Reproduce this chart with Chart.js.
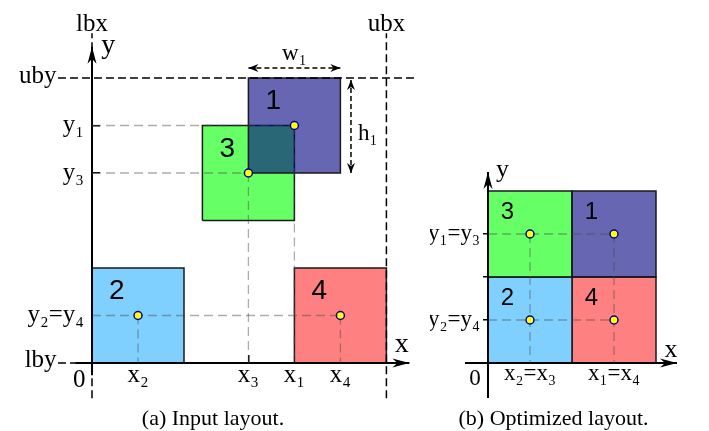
<!DOCTYPE html>
<html>
<head>
<meta charset="utf-8">
<script src="https://cdn.jsdelivr.net/npm/chart.js@4"></script>
<style>
  html, body { margin: 0; padding: 0; background: #fff; }
  body { width: 709px; height: 431px; position: relative; overflow: hidden; }
  .panel { position: absolute; top: 0; height: 431px; }
  #panel-a { left: 0; width: 430px; }
  #panel-b { left: 415px; width: 294px; }
</style>
</head>
<body>
<div class="panel" id="panel-a"><canvas id="chart-a"></canvas></div>
<div class="panel" id="panel-b"><canvas id="chart-b"></canvas></div>
<script>
const SERIF = '"Liberation Serif", "DejaVu Serif", serif';
const SANS = '"Liberation Sans", Arial, sans-serif';

// Прямоугольники 1..4 (одни и те же в обоих вариантах)
const rectNames = ['1', '2', '3', '4'];
const rectColors = ['rgba(0, 0, 128, 0.6)', '#80d0ff', 'rgba(0, 255, 0, 0.6)', '#ff8080'];

// (a) входной layout: левый нижний угол, ширина, высота
const inLeft = [1.7, 0.0, 1.2, 2.2];
const inBottom = [2.0, 0.0, 1.5, 0.0];
const inWidth = [1, 1, 1, 1];
const inHeight = [1, 1, 1, 1];

// границы области размещения
const boundNames = ['lbx', 'ubx', 'lby', 'uby'];
const boundValues = [0, 3.2, 0, 3.0];

const inXTicks = [0.5, 1.7, 2.2, 2.7];
const inXTickLabels = ['x₂', 'x₃', 'x₁', 'x₄'];
const inYTicks = [2.5, 2.0, 0.5];
const inYTickLabels = ['y₁', 'y₃', 'y₂=y₄'];

// (b) оптимизированный layout
const outLeft = [1, 0, 0, 1];
const outBottom = [1, 0, 1, 0];
const outWidth = [1, 1, 1, 1];
const outHeight = [1, 1, 1, 1];

const outXTicks = [0.5, 1.5];
const outXTickLabels = ['x₂=x₃', 'x₁=x₄'];
const outYTicks = [1.5, 1.0, 0.5];
const outYTickLabels = ['y₁=y₃', '', 'y₂=y₄'];

const captions = ['(a) Input layout.', '(b) Optimized layout.'];

// замкнутый контур прямоугольника
function rectPath(x, y, w, h) {
    return [{x: x, y: y}, {x: x + w, y: y}, {x: x + w, y: y + h}, {x: x, y: y + h}, {x: x, y: y}];
}

// пунктирные выноски от центров к осям (без повторов)
function guideLines(pts) {
    const byY = {}, byX = {};
    const key = v => Math.round(v * 1000) / 1000;
    pts.forEach(p => {
        const ky = key(p.y), kx = key(p.x);
        byY[ky] = Math.max(byY[ky] ?? -Infinity, p.x);
        byX[kx] = Math.max(byX[kx] ?? -Infinity, p.y);
    });
    const res = [];
    Object.keys(byY).forEach(k => res.push([{x: 0, y: +k}, {x: byY[k], y: +k}]));
    Object.keys(byX).forEach(k => res.push([{x: +k, y: byX[k]}, {x: +k, y: 0}]));
    return res;
}

function lineSet(data, color, width, dash, order, arrow) {
    return {
        data: data, showLine: true, borderColor: color, borderWidth: width,
        borderDash: dash || [], pointRadius: 0, fill: false, order: order,
        clip: false, arrow: arrow
    };
}

// наконечник стрелки
function drawHead(ctx, from, to, len, half, back) {
    const dx = to.x - from.x, dy = to.y - from.y;
    const d = Math.hypot(dx, dy);
    const ux = dx / d, uy = dy / d, nx = -uy, ny = ux;
    ctx.beginPath();
    ctx.moveTo(to.x, to.y);
    ctx.lineTo(to.x - ux * len + nx * half, to.y - uy * len + ny * half);
    ctx.lineTo(to.x - ux * back, to.y - uy * back);
    ctx.lineTo(to.x - ux * len - nx * half, to.y - uy * len - ny * half);
    ctx.closePath();
    ctx.fill();
}

const arrowPlugin = {
    id: 'arrowHeads',
    afterDatasetsDraw(chart) {
        const ctx = chart.ctx;
        chart.data.datasets.forEach((ds, i) => {
            if (!ds.arrow) return;
            const el = chart.getDatasetMeta(i).data;
            const [len, half, back] = ds.arrow.size;
            ctx.save();
            ctx.fillStyle = ds.borderColor;
            drawHead(ctx, el[el.length - 2], el[el.length - 1], len, half, back);
            if (ds.arrow.both) drawHead(ctx, el[1], el[0], len, half, back);
            ctx.restore();
        });
    }
};

// подписи внутри графика (в координатах данных)
function notesPlugin(notes) {
    return {
        id: 'notes',
        afterDraw(chart) {
            const {ctx, scales: {x, y}} = chart;
            ctx.save();
            ctx.fillStyle = '#000';
            notes.forEach(n => {
                ctx.font = n.font;
                ctx.textAlign = n.align || 'center';
                ctx.textBaseline = n.base || 'alphabetic';
                ctx.fillText(n.text, x.getPixelForValue(n.x), y.getPixelForValue(n.y));
            });
            ctx.restore();
        }
    };
}

function makeChart(canvasId, L) {
    const pts = L.left.map((x, i) => ({x: x + L.width[i] / 2, y: L.bottom[i] + L.height[i] / 2}));
    const datasets = [];

    datasets.push({
        data: pts, showLine: false, pointRadius: 4, pointBackgroundColor: '#ffff00',
        pointBorderColor: '#0000a0', pointBorderWidth: 1.5, order: 0, clip: false
    });
    guideLines(pts).forEach(g => datasets.push(lineSet(g, 'rgba(70, 70, 70, 0.45)', 1.3, [9, 5], 1)));
    L.lines.forEach(l => datasets.push(l));

    // прямоугольник 1 рисуется поверх 3
    const rank = [0, 2, 1, 2];
    L.left.forEach((x, i) => {
        datasets.push({
            data: rectPath(x, L.bottom[i], L.width[i], L.height[i]),
            showLine: true, fill: 'shape', backgroundColor: rectColors[i],
            borderColor: '#1a1a1a', borderWidth: 1.5, pointRadius: 0, order: 4 + rank[i]
        });
    });

    const notes = L.notes.concat(rectNames.map((t, i) => ({
        text: t,
        x: L.left[i] + L.numDx * L.width[i],
        y: L.bottom[i] + L.height[i] * (1 - L.numDy),
        font: L.numSize + 'px ' + SANS, base: 'middle'
    })));

    return new Chart(document.getElementById(canvasId), {
        type: 'scatter',
        data: { datasets: datasets },
        options: {
            responsive: true,
            maintainAspectRatio: false,
            animation: false,
            events: [],
            layout: { padding: L.padding },
            plugins: {
                legend: { display: false },
                tooltip: { enabled: false },
                title: {
                    display: true, position: 'bottom', text: L.caption, color: '#000',
                    font: { family: SERIF, size: 22, weight: 'normal', lineHeight: 1 },
                    padding: { top: 8, bottom: 1 }
                }
            },
            scales: {
                x: {
                    type: 'linear', position: 'bottom', min: 0, max: L.xMax,
                    border: { display: false },
                    grid: { drawOnChartArea: false, drawTicks: true, tickLength: L.xTickLen, color: '#000', lineWidth: 1.5 },
                    ticks: {
                        autoSkip: false, maxRotation: 0, minRotation: 0, padding: L.xPad, color: '#000',
                        font: { family: SERIF, size: L.tickSize, lineHeight: 1 },
                        callback: (v, i) => L.xLabels[i]
                    },
                    afterBuildTicks: s => { s.ticks = L.xTicks.map(v => ({value: v})); },
                    afterFit: s => { s.height = 37; }
                },
                y: {
                    type: 'linear', position: 'left', min: 0, max: L.yMax,
                    border: { display: false },
                    grid: { drawOnChartArea: false, drawTicks: true, tickLength: L.yTickLen, color: '#000', lineWidth: 1.5 },
                    ticks: {
                        autoSkip: false, padding: L.yPad, color: '#000',
                        font: { family: SERIF, size: L.tickSize, lineHeight: 1 },
                        callback: (v, i) => L.yLabels[i]
                    },
                    afterBuildTicks: s => { s.ticks = L.yTicks.map(v => ({value: v})); },
                    afterFit: s => { s.width = L.yWidth; }
                }
            }
        },
        plugins: [arrowPlugin, notesPlugin(notes)]
    });
}

const AXIS_HEAD = { size: [17, 4.5, 12] };
const DIM_HEAD = { size: [10, 4, 7], both: true };

// (a) Input layout
const r1 = 0; // прямоугольник 1: размеры w1, h1
makeChart('chart-a', {
    left: inLeft, bottom: inBottom, width: inWidth, height: inHeight,
    xMax: 3.45, yMax: 3.33,
    padding: { left: 16.6, right: 20.6, top: 46.65, bottom: 0 }, yWidth: 75.4,
    xTicks: inXTicks, xLabels: inXTickLabels, yTicks: inYTicks, yLabels: inYTickLabels,
    xTickLen: -8, xPad: 8, yTickLen: -8, yPad: 16, tickSize: 25,
    numDx: 0.27, numDy: 0.25, numSize: 28,
    caption: captions[0],
    lines: [
        // оси
        lineSet([{x: -0.18, y: 0}, {x: 3.45, y: 0}], '#000', 2, null, 2, AXIS_HEAD),
        lineSet([{x: 0, y: -0.13}, {x: 0, y: 3.33}], '#000', 2, null, 2, AXIS_HEAD),
        // границы lbx, ubx, lby, uby
        lineSet([{x: boundValues[0], y: -0.37}, {x: boundValues[0], y: 3.47}], '#000', 1.5, [8, 4], 3),
        lineSet([{x: boundValues[1], y: -0.37}, {x: boundValues[1], y: 3.47}], '#000', 1.5, [8, 4], 3),
        lineSet([{x: -0.37, y: boundValues[2]}, {x: boundValues[1], y: boundValues[2]}], '#000', 1.5, [8, 4], 3),
        lineSet([{x: -0.37, y: boundValues[3]}, {x: 3.51, y: boundValues[3]}], '#000', 1.5, [8, 4], 3),
        // w1 и h1
        lineSet([{x: inLeft[r1], y: inBottom[r1] + inHeight[r1] + 0.105},
                 {x: inLeft[r1] + inWidth[r1], y: inBottom[r1] + inHeight[r1] + 0.105}], '#000', 1.5, [5, 3], 1, DIM_HEAD),
        lineSet([{x: inLeft[r1] + inWidth[r1] + 0.115, y: inBottom[r1] + inHeight[r1] - 0.02},
                 {x: inLeft[r1] + inWidth[r1] + 0.115, y: inBottom[r1]}], '#000', 1.5, [5, 3], 1, DIM_HEAD)
    ],
    notes: [
        { text: boundNames[0], x: boundValues[0], y: 3.5, font: '25px ' + SERIF },
        { text: boundNames[1], x: boundValues[1], y: 3.5, font: '25px ' + SERIF },
        { text: boundNames[2], x: -0.385, y: boundValues[2] - 0.045, font: '25px ' + SERIF, align: 'right' },
        { text: boundNames[3], x: -0.385, y: boundValues[3] - 0.055, font: '25px ' + SERIF, align: 'right' },
        { text: 'y', x: 0.177, y: 3.267, font: '28px ' + SERIF },
        { text: 'x', x: 3.366, y: 0.119, font: '28px ' + SERIF },
        { text: '0', x: -0.138, y: -0.249, font: '25px ' + SERIF },
        { text: 'w₁', x: inLeft[r1] + inWidth[r1] / 2, y: 3.19, font: '23px ' + SERIF },
        { text: 'h₁', x: 2.89, y: 2.347, font: '23px ' + SERIF, align: 'left' }
    ]
});

// (b) Optimized layout
makeChart('chart-b', {
    left: outLeft, bottom: outBottom, width: outWidth, height: outHeight,
    xMax: 2.25, yMax: 2.22,
    padding: { left: 15, right: 32, top: 172.08, bottom: 0 }, yWidth: 58,
    xTicks: outXTicks, xLabels: outXTickLabels, yTicks: outYTicks, yLabels: outYTickLabels,
    xTickLen: -6, xPad: 5.5, yTickLen: 5, yPad: 3, tickSize: 23,
    numDx: 0.23, numDy: 0.25, numSize: 24,
    caption: captions[1],
    lines: [
        lineSet([{x: -0.274, y: 0}, {x: 2.25, y: 0}], '#000', 2, null, 2, AXIS_HEAD),
        lineSet([{x: 0, y: -0.407}, {x: 0, y: 2.22}], '#000', 2, null, 2, AXIS_HEAD)
    ],
    notes: [
        { text: 'y', x: 0.173, y: 2.163, font: '26px ' + SERIF },
        { text: 'x', x: 2.18, y: 0.07, font: '26px ' + SERIF },
        { text: '0', x: -0.155, y: -0.256, font: '23px ' + SERIF }
    ]
});
</script>
</body>
</html>
